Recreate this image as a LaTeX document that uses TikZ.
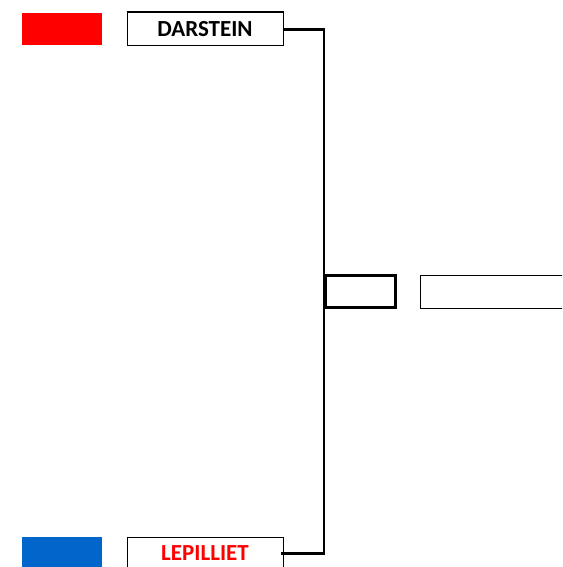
\documentclass[tikz,border=0pt]{standalone}
\usepackage{fontspec}
\newfontfamily\calibri{Carlito}
\usepackage{xcolor}
\usetikzlibrary{positioning}
\definecolor{crojo}{HTML}{FF0000}
\definecolor{cazul}{HTML}{0066CC}
\tikzset{
  bandera/.style={rectangle, inner sep=0pt, minimum width=80pt, minimum height=32pt},
  equipo/.style={rectangle, draw=black, line width=1pt, inner sep=0pt,
    minimum width=156pt, minimum height=33pt, font=\calibri\bfseries\fontsize{23}{25}\selectfont},
  ganador/.style={rectangle, draw=black, line width=2.6pt, inner sep=0pt,
    minimum width=70pt, minimum height=32pt},
  final/.style={rectangle, draw=black, line width=1pt, inner sep=0pt,
    minimum width=180pt, minimum height=33pt},
  linea/.style={line width=2.2pt, draw=black},
}

\begin{document}
\begin{tikzpicture}[x=1pt, y=-1pt]
  \clip (0,0) rectangle (562,567);
  \node[bandera, fill=crojo] (rojo) at (62,29) {};
  \node[equipo] (dar) at (205,29.5) {DARSTEIN};
  \draw[line width=2pt] (dar.north west) -- (dar.north east);
  \node[bandera, fill=cazul, minimum height=33pt] (azul) at (62,553.5) {};
  \node[equipo, text=crojo] (lep) at (205,553.5) {\raisebox{1.5pt}{LEPILLIET}};
  \node[ganador] (gan) at (360.5,291.5) {};
  \node[final] (fin) at (510,291.5) {};
  \draw[linea] (dar.east) -| (gan.west |- lep.east) -- ([xshift=-3pt]lep.east);
\end{tikzpicture}
\end{document}
